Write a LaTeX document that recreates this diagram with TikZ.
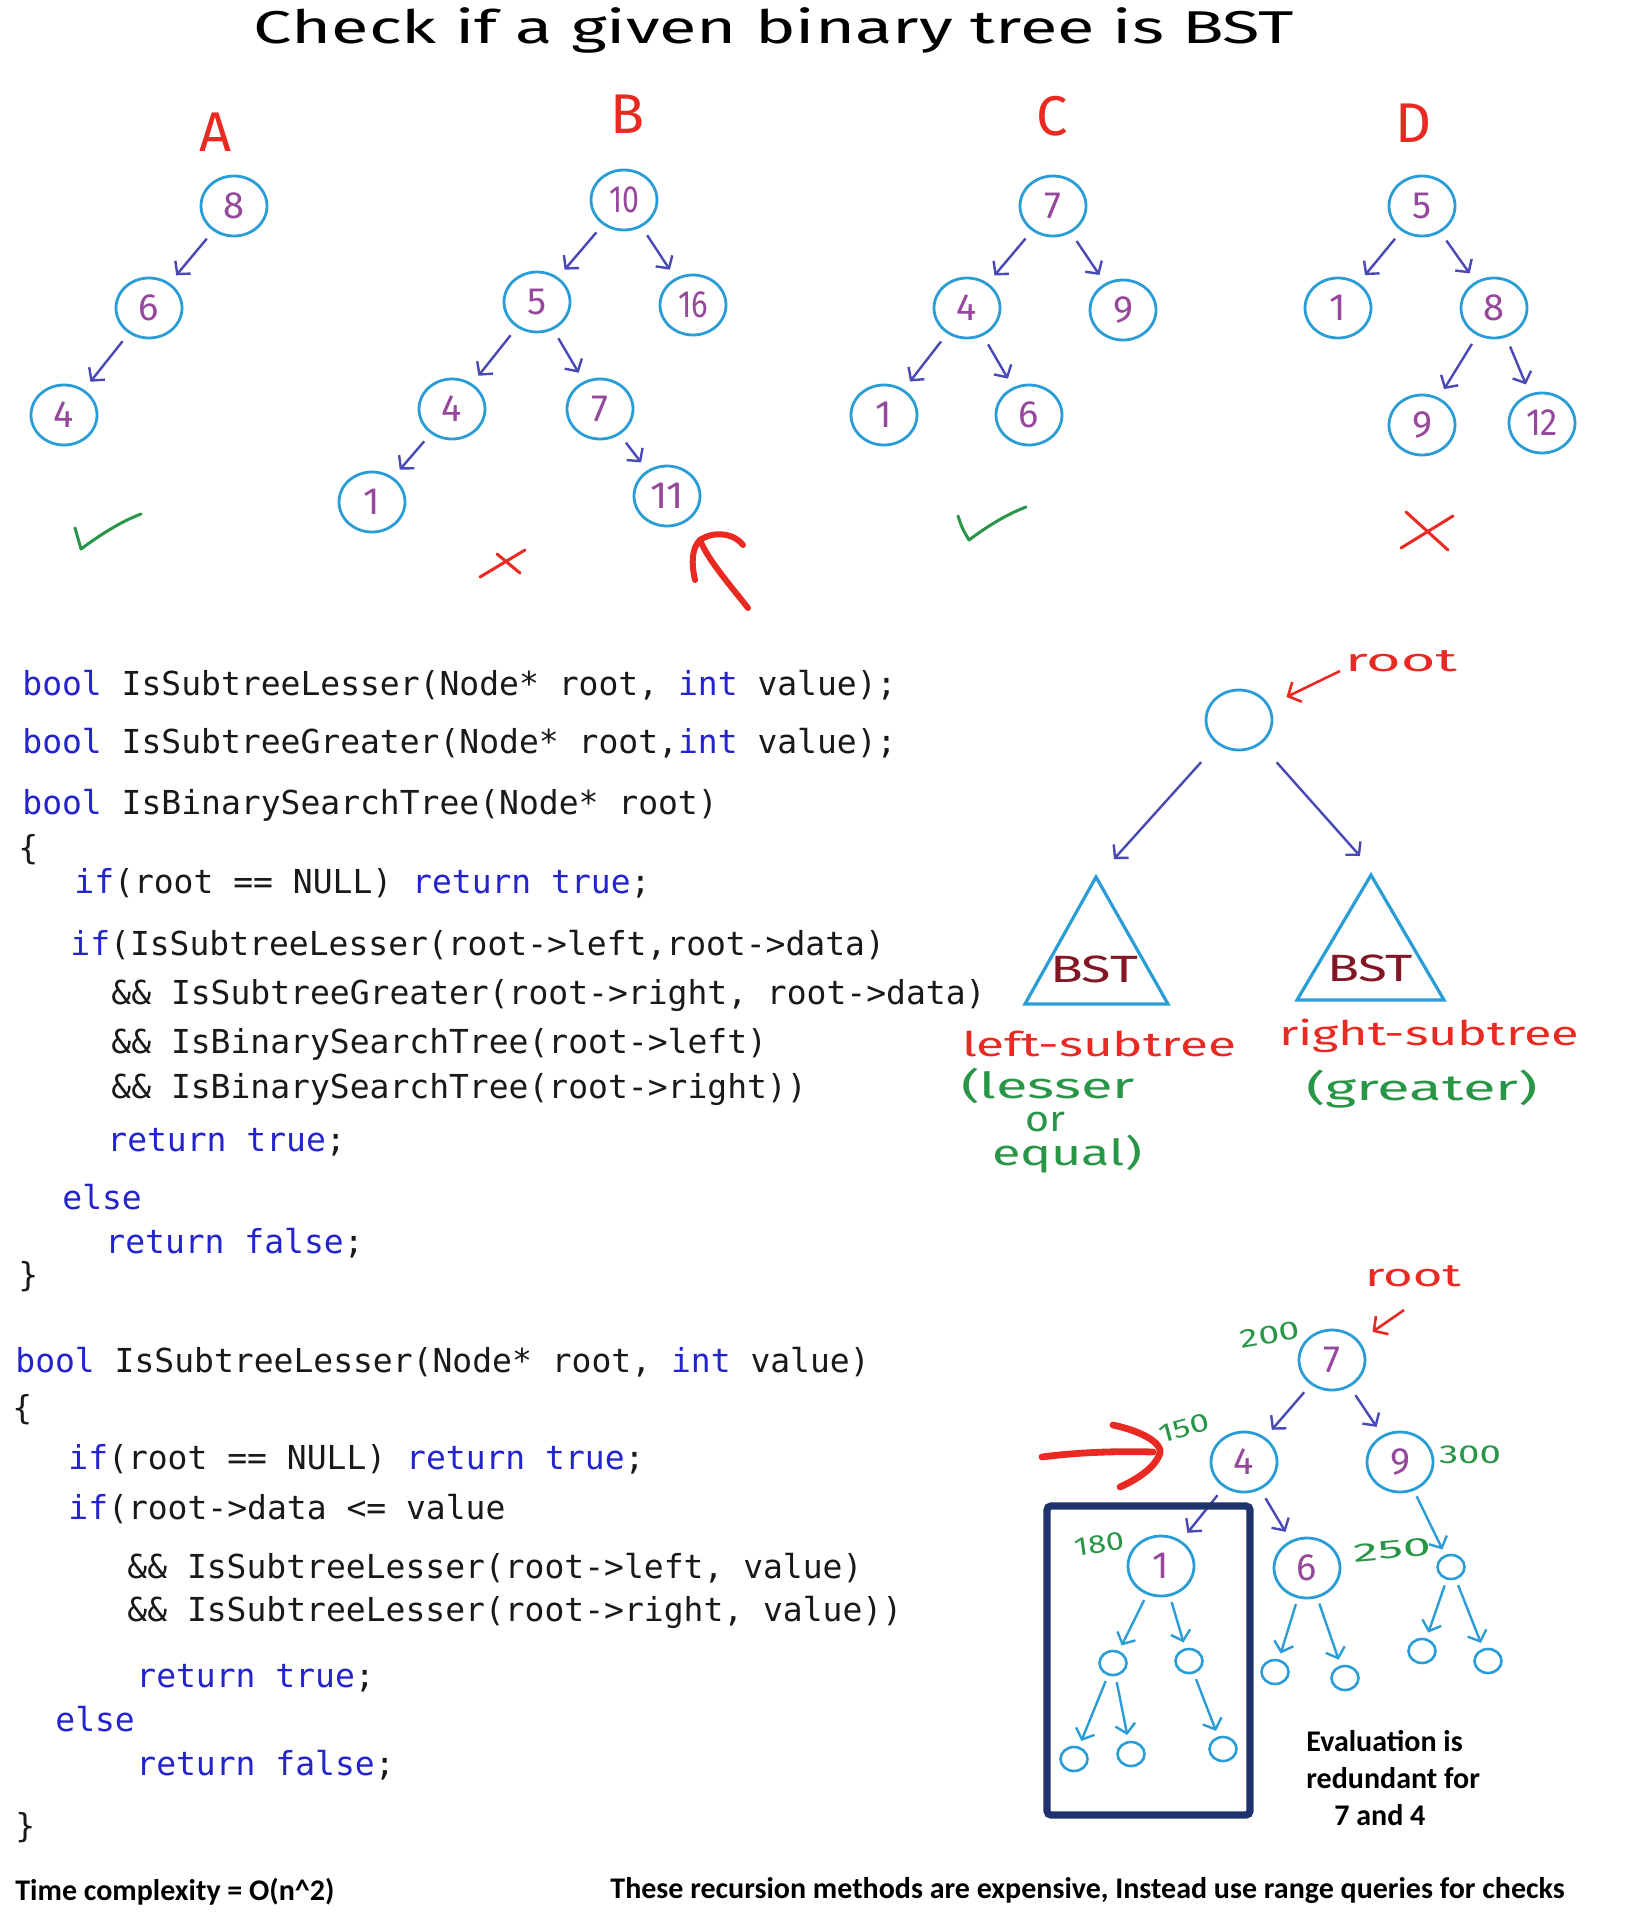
\documentclass[tikz,border=0pt]{standalone}
\usepackage{fontspec}
\usepackage{graphicx}
\usetikzlibrary{arrows.meta,shapes.geometric}
\setmainfont{Fira Sans}
\newfontfamily\handfont{Fira Sans}
\newfontfamily\codefont{DejaVu Sans Mono}
\newfontfamily\califont{Carlito}
\definecolor{circblue}{RGB}{42,157,214}
\definecolor{arrblue}{RGB}{72,72,182}
\definecolor{numpurple}{RGB}{150,72,156}
\definecolor{hred}{RGB}{232,42,34}
\definecolor{hgreen}{RGB}{40,150,70}
\definecolor{bstred}{RGB}{130,22,36}
\definecolor{kwblue}{RGB}{36,36,205}
\definecolor{codeblack}{RGB}{25,25,25}
\definecolor{navybox}{RGB}{30,50,110}
\newcommand\kw[1]{\textcolor{kwblue}{#1}}
\newcommand\hw[2]{\resizebox{#1}{\height}{#2}}
\begin{document}
\begin{tikzpicture}[x=0.5pt,y=-0.5pt,
  tn/.style={ellipse, draw=circblue, line width=1.4pt, minimum width=33pt, minimum height=30pt, inner sep=0pt, text=numpurple, font=\handfont\fontsize{19}{19}\selectfont},
  leaf/.style={ellipse, draw=circblue, line width=1.3pt, minimum width=13.5pt, minimum height=12pt, inner sep=0pt},
  ta/.style={draw=arrblue, line width=1.2pt, -{Straight Barb[length=4.5pt,width=10pt]}, shorten <=5pt, shorten >=5pt},
  tal/.style={ta, draw=circblue, shorten <=3pt, shorten >=3pt},
  lab/.style={text=hred, font=\handfont\fontsize{28}{28}\selectfont, inner sep=0pt},
  rtext/.style={anchor=base, text=hred, inner sep=0pt, font=\handfont\fontsize{17}{17}\selectfont},
  gtext/.style={anchor=base, text=hgreen, inner sep=0pt, font=\handfont\fontsize{18}{18}\selectfont},
  num/.style={text=hgreen, inner sep=0pt, font=\handfont\fontsize{13}{13}\selectfont},
  bst/.style={anchor=base, text=bstred, inner sep=0pt, font=\handfont\fontsize{19}{19}\selectfont},
  chk/.style={draw=hgreen, line width=1.5pt, line cap=round, line join=round},
  xm/.style={draw=hred, line width=1.5pt, line cap=round},
  redarr/.style={draw=hred, line width=1.3pt, -{Straight Barb[length=5pt,width=11pt]}},
  thickred/.style={draw=hred, line width=3.4pt, line cap=round},
  codeline/.style={anchor=base west, inner sep=0pt, text=codeblack, font=\codefont\fontsize{16.5}{20}\selectfont},
  boldtext/.style={anchor=base west, inner sep=0pt, text=black, font=\califont\bfseries\fontsize{15}{18}\selectfont}
]
\useasboundingbox (0,0) rectangle (1630,1932);
\fill[white] (0,0) rectangle (1630,1932);

% title
\node[anchor=base, inner sep=0pt, font=\handfont\fontsize{23}{23}\selectfont] (title) at (774,44) {\hw{520pt}{Check if a given binary tree is BST}};

% labels
\node[lab] (labA) at (216,132) {A};
\node[lab] (labB) at (628,114) {B};
\node[lab] (labC) at (1052,116) {C};
\node[lab] (labD) at (1414,123) {D};

% tree A
\node[tn] (a8) at (234,206) {8};
\node[tn] (a6) at (149,308) {6};
\node[tn] (a4) at (64,415) {4};
\draw[ta] (a8) -- (a6);
\draw[ta] (a6) -- (a4);

% tree B
\node[tn] (b10) at (624,200) {\hw{15pt}{10}};
\node[tn] (b5) at (537,302) {5};
\node[tn] (b16) at (693,305) {\hw{15pt}{16}};
\node[tn] (b4) at (452,409) {4};
\node[tn] (b7) at (600,409) {7};
\node[tn] (b1) at (372,502) {1};
\node[tn] (b11) at (667,496) {\hw{17pt}{11}};
\draw[ta] (b10) -- (b5);
\draw[ta] (b10) -- (b16);
\draw[ta] (b5) -- (b4);
\draw[ta] (b5) -- (b7);
\draw[ta] (b4) -- (b1);
\draw[ta] (b7) -- (b11);

% tree C
\node[tn] (c7) at (1053,206) {7};
\node[tn] (c4) at (967,308) {4};
\node[tn] (c9) at (1123,310) {9};
\node[tn] (c1) at (884,415) {1};
\node[tn] (c6) at (1029,415) {6};
\draw[ta] (c7) -- (c4);
\draw[ta] (c7) -- (c9);
\draw[ta] (c4) -- (c1);
\draw[ta] (c4) -- (c6);

% tree D
\node[tn] (d5) at (1422,206) {5};
\node[tn] (d1) at (1338,308) {1};
\node[tn] (d8) at (1494,308) {8};
\node[tn] (d9) at (1422,425) {9};
\node[tn] (d12) at (1542,423) {\hw{16pt}{12}};
\draw[ta] (d5) -- (d1);
\draw[ta] (d5) -- (d8);
\draw[ta] (d8) -- (d9);
\draw[ta] (d8) -- (d12);

% check marks and crosses
\draw[chk] (75,528) .. controls (78,538) .. (81,549) .. controls (100,535) and (120,522) .. (141,514);
\draw[chk] (958,516) .. controls (962,528) .. (969,540) .. controls (985,528) and (1005,515) .. (1026,507);
\draw[xm] (480,577) -- (525,550);
\draw[xm] (497,554) -- (520,573);
\draw[xm] (1406,512) -- (1448,550);
\draw[xm] (1401,548) -- (1453,516);

% red arrow pointing at 11
\draw[thickred, line width=3pt] (748,608) .. controls (730,585) and (708,560) .. (700,540);
\draw[thickred, line width=3pt] (695,580) .. controls (691,562) and (692,548) .. (700,540) .. controls (715,530) and (735,534) .. (743,545);

% ---------- middle right: BST definition
\node[tn] (rootc) at (1239,720) {};
\node[rtext, font=\handfont\fontsize{16}{16}\selectfont] (rootlab) at (1401,671) {\hw{56pt}{root}};
\coordinate (rtail) at (1340,671);
\draw[redarr, shorten >=9.5pt] (rtail) -- (rootc);
\coordinate (ltip) at (1114,859);
\coordinate (rtip) at (1360,856);
\draw[ta, shorten <=12pt, shorten >=0pt] (rootc) -- (ltip);
\draw[ta, shorten <=12pt, shorten >=0pt] (rootc) -- (rtip);
\draw[draw=circblue, line width=1.6pt, line join=miter] (1096,877) -- (1168,1004) -- (1025,1004) -- cycle;
\draw[draw=circblue, line width=1.6pt, line join=miter] (1371,875) -- (1444,1000) -- (1297,1000) -- cycle;
\node[bst] (bstL) at (1094,982) {\hw{44pt}{BST}};
\node[bst] (bstR) at (1370,981) {\hw{43pt}{BST}};
\node[rtext] (lsub) at (1099,1056) {\hw{137pt}{left-subtree}};
\node[rtext] (rsub) at (1429,1045) {\hw{150pt}{right-subtree}};
\node[gtext] (lesser) at (1048,1098) {\hw{87pt}{(lesser}};
\node[gtext] (orw) at (1045,1131) {\hw{20pt}{or}};
\node[gtext] (equal) at (1067,1165) {\hw{75pt}{equal)}};
\node[gtext] (greater) at (1422,1100) {\hw{116pt}{(greater)}};

% ---------- bottom right tree
\node[rtext, font=\handfont\fontsize{16}{16}\selectfont] (root2) at (1413,1286) {\hw{48pt}{root}};
\coordinate (r2tail) at (1404,1310);
\node[tn] (n7) at (1332,1360) {7};
\node[tn] (n4) at (1244,1462) {4};
\node[tn] (n9) at (1400,1462) {9};
\node[tn] (n1) at (1161,1566) {1};
\node[tn] (n6) at (1307,1568) {6};
\draw[redarr, shorten >=8pt] (r2tail) -- (n7);
\draw[ta] (n7) -- (n4);
\draw[ta] (n7) -- (n9);
\draw[ta] (n4) -- (n1);
\draw[ta] (n4) -- (n6);
\node[leaf] (s1) at (1451,1567) {};
\node[leaf] (la) at (1113,1663) {};
\node[leaf] (lb) at (1189,1661) {};
\node[leaf] (laa) at (1074,1759) {};
\node[leaf] (lab) at (1131,1754) {};
\node[leaf] (lba) at (1223,1749) {};
\node[leaf] (lc) at (1275,1672) {};
\node[leaf] (ld) at (1345,1678) {};
\node[leaf] (le) at (1422,1651) {};
\node[leaf] (lf) at (1488,1661) {};
\draw[tal] (n9) -- (s1);
\draw[tal] (n1) -- (la);
\draw[tal] (n1) -- (lb);
\draw[tal] (la) -- (laa);
\draw[tal] (la) -- (lab);
\draw[tal] (lb) -- (lba);
\draw[tal] (n6) -- (lc);
\draw[tal] (n6) -- (ld);
\draw[tal] (s1) -- (le);
\draw[tal] (s1) -- (lf);
\node[num, rotate=10] (w200) at (1270,1335) {\hw{30pt}{200}};
\node[num, rotate=15] (w150) at (1184,1428) {\hw{26pt}{150}};
\node[num] (w300) at (1470,1455) {\hw{31pt}{300}};
\node[num, rotate=8] (w180) at (1099,1544) {\hw{25pt}{180}};
\node[num, rotate=5] (w250) at (1392,1550) {\hw{39pt}{250}};
\draw[draw=navybox, line width=3.6pt, rounded corners=2pt] (1047,1506) rectangle (1250,1815);
\draw[thickred] (1042,1457) .. controls (1080,1452) and (1120,1451) .. (1153,1452);
\draw[thickred] (1113,1425) .. controls (1145,1432) and (1162,1444) .. (1160,1453) .. controls (1156,1466) and (1140,1478) .. (1120,1487);

\node[boldtext] (ev1) at (1306,1751) {Evaluation is};
\node[boldtext] (ev2) at (1306,1788) {redundant for};
\node[boldtext] (ev3) at (1334,1825) {7 and 4};

% ---------- code block 1
\node[codeline] (c01) at (22,695) {\kw{bool} IsSubtreeLesser(Node* root, \kw{int} value);};
\node[codeline] (c02) at (22,753) {\kw{bool} IsSubtreeGreater(Node* root,\kw{int} value);};
\node[codeline] (c03) at (22,814) {\kw{bool} IsBinarySearchTree(Node* root)};
\node[codeline] (c04) at (18,859) {\{};
\node[codeline] (c05) at (74,893) {\kw{if}(root == NULL) \kw{return} \kw{true};};
\node[codeline] (c06) at (70,955) {\kw{if}(IsSubtreeLesser(root->left,root->data)};
\node[codeline] (c07) at (111,1004) {\&\& IsSubtreeGreater(root->right, root->data)};
\node[codeline] (c08) at (111,1053) {\&\& IsBinarySearchTree(root->left)};
\node[codeline] (c09) at (111,1098) {\&\& IsBinarySearchTree(root->right))};
\node[codeline] (c10) at (107,1151) {\kw{return} \kw{true};};
\node[codeline] (c11) at (62,1209) {\kw{else}};
\node[codeline] (c12) at (105,1253) {\kw{return} \kw{false};};
\node[codeline] (c13) at (18,1286) {\}};

% ---------- code block 2
\node[codeline] (d01) at (15,1372) {\kw{bool} IsSubtreeLesser(Node* root, \kw{int} value)};
\node[codeline] (d02) at (12,1419) {\{};
\node[codeline] (d03) at (68,1469) {\kw{if}(root == NULL) \kw{return} \kw{true};};
\node[codeline] (d04) at (68,1519) {\kw{if}(root->data <= value};
\node[codeline] (d05) at (127,1578) {\&\& IsSubtreeLesser(root->left, value)};
\node[codeline] (d06) at (127,1621) {\&\& IsSubtreeLesser(root->right, value))};
\node[codeline] (d07) at (136,1687) {\kw{return} \kw{true};};
\node[codeline] (d08) at (55,1731) {\kw{else}};
\node[codeline] (d09) at (136,1775) {\kw{return} \kw{false};};
\node[codeline] (d10) at (15,1837) {\}};

% bottom notes
\node[boldtext] (tc) at (15,1900) {Time complexity = O(n\textasciicircum 2)};
\node[boldtext] (rec) at (610,1898) {These recursion methods are expensive, Instead use range queries for checks};
\end{tikzpicture}
\end{document}
